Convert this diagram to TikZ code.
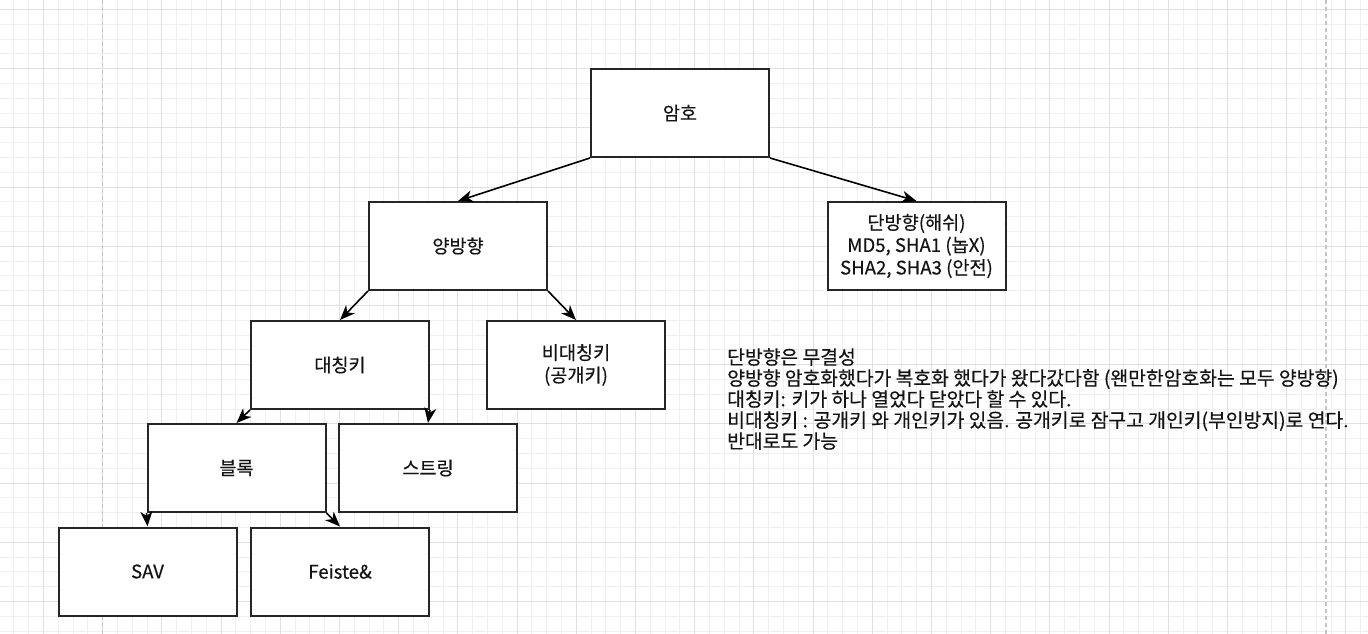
\documentclass[tikz,border=0pt]{standalone}
\usepackage{fontspec}
\setmainfont[FakeBold=0.4]{Noto Sans CJK KR}
\usetikzlibrary{arrows.meta}
\definecolor{gridminor}{HTML}{F0F0F0}
\definecolor{gridmajor}{HTML}{E0E0E0}
\definecolor{pageline}{HTML}{C4C4C4}
\definecolor{edgec}{HTML}{262626}
\definecolor{textc}{HTML}{141414}
\begin{document}
\begin{tikzpicture}[x=1pt,y=-1pt,
  box/.style={draw=edgec, line width=2pt, fill=white, minimum width=178pt, minimum height=88pt,
    inner sep=0pt, align=center, text=textc, font=\fontsize{18.6}{22.5}\selectfont},
  arr/.style={draw=black, line width=1.6pt, -{Stealth[length=15pt,width=12pt,inset=4.5pt]}},
  minorline/.style={draw=gridminor, line width=1pt},
  majorline/.style={draw=gridmajor, line width=1pt},
  pagebreak/.style={draw=pageline, line width=1.3pt, dash pattern=on 4pt off 3pt},
  notetext/.style={anchor=west, align=left, inner sep=0pt, text=textc, font=\fontsize{19.3}{21}\selectfont}
]
% background and bounding box
\fill[white] (0,0) rectangle (1368,634);
\useasboundingbox (0,0) rectangle (1368,634);
% grid (snapped to pixel columns)
\foreach \i in {-2,...,89} { \pgfmathsetmacro{\xx}{round(43+14.8*\i)+0.5} \draw[minorline] (\xx,0) -- (\xx,634); }
\foreach \j in {0,...,42} { \pgfmathsetmacro{\yy}{round(9+14.8*\j)+0.5} \draw[minorline] (0,\yy) -- (1368,\yy); }
\foreach \i in {0,...,22} { \pgfmathsetmacro{\xx}{round(43+59.2*\i)+0.5} \draw[majorline] (\xx,0) -- (\xx,634); }
\foreach \j in {0,...,10} { \pgfmathsetmacro{\yy}{round(9+59.2*\j)+0.5} \draw[majorline] (0,\yy) -- (1368,\yy); }
\draw[pagebreak] (102.5,0) -- (102.5,634);
\draw[pagebreak] (1326,0) -- (1326,634);

% boxes
\node[box] (amho)   at (680,113)   {암호};
\node[box] (yang)   at (458,246)   {양방향};
\node[box] (dan)    at (916.5,246) {단방향(해쉬)\\MD5, SHA1 (놉X)\\SHA2, SHA3 (안전)};
\node[box] (sym)    at (340,365)   {대칭키};
\node[box] (asym)   at (576,365)   {비대칭키\\(공개키)};
\node[box] (block)  at (236.5,468) {블록};
\node[box] (stream) at (428,468)   {스트링};
\node[box] (sav)    at (147.5,571.5) {SAV};
\node[box] (feis)   at (340,571.5) {Feiste\&};

% connectors
\draw[arr] (amho.south west) -- (yang.north);
\draw[arr] (amho.south east) -- (dan.north);
\draw[arr] (yang.south west) -- (sym.north);
\draw[arr] (yang.south east) -- (asym.north);
\draw[arr] (sym.south west) -- (block.north);
\draw[arr] (sym.south east) -- (stream.north);
\draw[arr] (block.south west) -- (sav.north);
\draw[arr] (block.south east) -- (feis.north);

% note
\node[notetext] (note) at (727,399) {단방향은 무결성\\양방향 암호화했다가 복호화 했다가 왔다갔다함 (왠만한암호화는 모두 양방향)\\대칭키: 키가 하나 열었다 닫았다 할 수 있다.\\비대칭키 : 공개키 와 개인키가 있음. 공개키로 잠구고 개인키(부인방지)로 연다.\\반대로도 가능};
\end{tikzpicture}
\end{document}
